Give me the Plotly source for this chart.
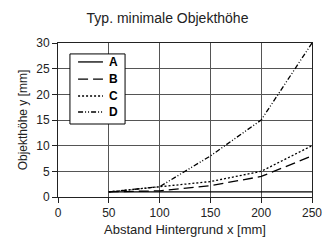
import plotly.graph_objects as go

x_vals = [50, 100, 150, 200, 250]
series_names = ["A", "B", "C", "D"]
a_vals = [1, 1, 1, 1, 1]
b_vals = [1, 1.2, 2.2, 4, 8]
c_vals = [1, 2, 3, 5, 10]
d_vals = [1, 2, 8, 15, 30]
dashes = ["solid", "10px,5px", "2px,2px", "5px,2px,1px,2px,1px,2px"]

fig = go.Figure()
for name, vals, dash in zip(series_names, [a_vals, b_vals, c_vals, d_vals], dashes):
    fig.add_trace(go.Scatter(x=x_vals, y=vals, mode="lines", name=name, showlegend=False,
                             line=dict(color="black", width=1.3, dash=dash)))

# compact legend drawn in paper coordinates
fig.add_shape(type="rect", xref="paper", yref="paper", x0=0.047, x1=0.264, y0=0.474, y1=0.929,
              line=dict(color="black", width=1), fillcolor="white", layer="above")
row_y = [0.877, 0.766, 0.656, 0.552]
for name, dash, ry in zip(series_names, dashes, row_y):
    fig.add_shape(type="line", xref="paper", yref="paper", x0=0.079, x1=0.177, y0=ry, y1=ry,
                  line=dict(color="black", width=1.3, dash=dash), layer="above")
    fig.add_annotation(xref="paper", yref="paper", x=0.217, y=ry, text="<b>%s</b>" % name,
                       showarrow=False, xanchor="center", yanchor="middle",
                       font=dict(family="Liberation Sans, Arial, sans-serif", size=12, color="black"))

font = "Liberation Sans, Arial, sans-serif"
fig.update_layout(
    width=335, height=242,
    margin=dict(l=58, r=23, t=43, b=45),
    paper_bgcolor="white", plot_bgcolor="white",
    font=dict(family=font, size=12, color="#222"),
    title=dict(text="Typ. minimale Objekthöhe", x=0.5, xanchor="center", y=0.926, yanchor="middle",
               font=dict(size=14, family=font)),
    showlegend=False,
)
fig.update_xaxes(range=[0, 250], tickvals=[0, 50, 100, 150, 200, 250], showgrid=True,
                 gridcolor="#555", gridwidth=1, showline=True, linecolor="#222", mirror=True,
                 ticks="outside", ticklen=5, tickcolor="#222", zeroline=False, automargin=False,
                 title=dict(text="Abstand Hintergrund x [mm]", standoff=5, font=dict(size=13)),
                 tickfont=dict(family=font, size=12))
fig.update_yaxes(range=[0, 30], tickvals=[0, 5, 10, 15, 20, 25, 30], showgrid=True,
                 gridcolor="#555", gridwidth=1, showline=True, linecolor="#222", mirror=True,
                 ticks="outside", ticklen=5, tickcolor="#222", zeroline=False, automargin=False,
                 title=dict(text="Objekthöhe y [mm]", standoff=6, font=dict(size=12)),
                 tickfont=dict(family=font, size=12))

fig.write_html("out.html", post_script="document.body.style.margin='0';",
               config={"displayModeBar": False})
